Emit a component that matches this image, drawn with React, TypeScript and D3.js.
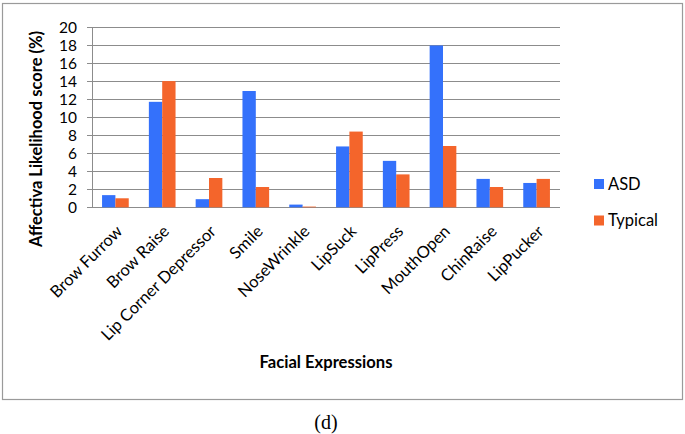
import React from "react";
import * as d3 from "d3";

const categories = ["Brow Furrow", "Brow Raise", "Lip Corner Depressor", "Smile", "NoseWrinkle", "LipSuck", "LipPress", "MouthOpen", "ChinRaise", "LipPucker"];
const asdValues = [1.35, 11.7, 0.9, 12.9, 0.3, 6.75, 5.15, 17.95, 3.15, 2.7];
const typicalValues = [1.0, 14.0, 3.25, 2.25, 0.08, 8.4, 3.65, 6.8, 2.25, 3.15];
const seriesNames = ["ASD", "Typical"];
const seriesColors = ["#3471FB", "#F4652B"];
const yTicks = [0, 2, 4, 6, 8, 10, 12, 14, 16, 18, 20];

const W = 685, H = 434;
const plot = { left: 92, right: 560, top: 27, bottom: 207.3 };
const FONT = "Lato, 'Open Sans', sans-serif";

export default function App() {
  const x = d3.scaleBand<string>().domain(categories).range([plot.left, plot.right]).paddingInner(0.43).paddingOuter(0.215);
  const x1 = d3.scaleBand<string>().domain(seriesNames).range([0, x.bandwidth()]);
  const y = d3.scaleLinear().domain([0, 20]).range([plot.bottom, plot.top]);
  const series = [asdValues, typicalValues];

  return (
    <svg width={W} height={H} style={{ position: "absolute", left: 0, top: 0, background: "#fff" }} fontFamily={FONT}>
      <rect x={2.5} y={3.5} width={680} height={396} fill="#fff" stroke="#9a9a9a" strokeWidth={1.2} />
      {yTicks.map((t) => (
        <g key={t}>
          <line x1={plot.left - 5} x2={plot.right} y1={Math.round(y(t)) + 0.5} y2={Math.round(y(t)) + 0.5} stroke="#8c8c8c" strokeWidth={1} />
          <text x={77} y={y(t)} dy="0.36em" textAnchor="end" fontSize={15.5} fill="#000">{t}</text>
        </g>
      ))}
      <line x1={plot.left + 0.5} x2={plot.left + 0.5} y1={plot.top} y2={plot.bottom} stroke="#8c8c8c" />
      {categories.map((c, i) => (
        <g key={c}>
          {series.map((vals, s) => (
            <rect key={s} x={(x(c) as number) + (x1(seriesNames[s]) as number)} y={y(vals[i])}
              width={x1.bandwidth()} height={plot.bottom - y(vals[i])} fill={seriesColors[s]} />
          ))}
        </g>
      ))}
      {categories.map((c) => {
        const cx = (x(c) as number) + x.bandwidth() / 2 + 4;
        const cy = plot.bottom + 21;
        return (
          <text key={c} transform={`translate(${cx},${cy}) rotate(-45)`} textAnchor="end" fontSize={16.5} dy="0.35em" fill="#000">{c}</text>
        );
      })}
      <text transform={`translate(42,139) rotate(-90)`} textAnchor="middle" fontSize={16.5} fontWeight="bold" fill="#000">Affectiva Likelihood score (%)</text>
      <text x={326} y={368} textAnchor="middle" fontSize={16.6} fontWeight="bold" fill="#000">Facial Expressions</text>
      {seriesNames.map((n, s) => (
        <g key={n} transform={`translate(594,${s === 0 ? 179 : 215.5})`}>
          <rect width={10} height={10} fill={seriesColors[s]} />
          <text x={14} y={5} dy="0.36em" fontSize={16.5} fill="#000">{n}</text>
        </g>
      ))}
      <text x={326} y={429} textAnchor="middle" fontSize={20} fontFamily="'Liberation Serif', 'DejaVu Serif', serif" fill="#000">(d)</text>
    </svg>
  );
}
